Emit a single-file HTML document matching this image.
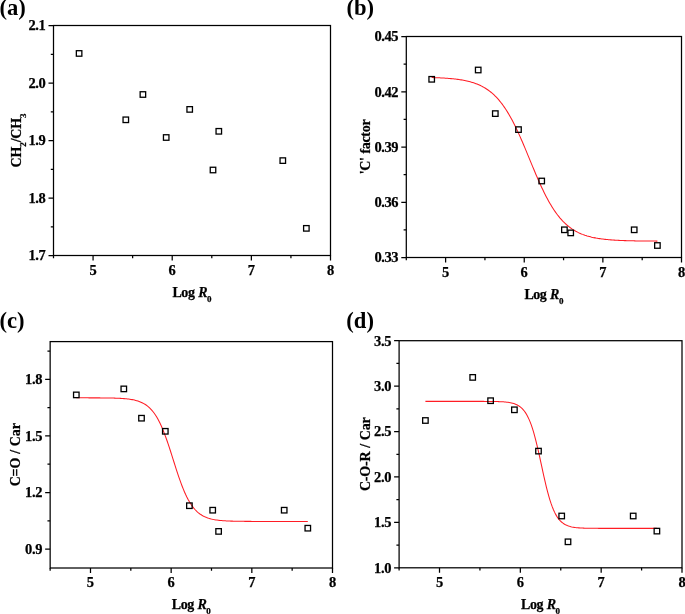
<!DOCTYPE html>
<html><head><meta charset="utf-8"><style>
html,body{margin:0;padding:0;background:#fff;}
body{width:685px;height:614px;overflow:hidden;}
svg{display:block;will-change:transform;}
.t{font-family:"Liberation Serif", serif;font-weight:bold;font-size:14.5px;fill:#000;stroke:#000;stroke-width:0.25px;}
.n{letter-spacing:-0.4px;}
.a{font-size:14px;letter-spacing:-0.45px;word-spacing:0.6px;}
.sub{font-size:9px;baseline-shift:-4.8px;letter-spacing:0;}
.h{font-family:"Liberation Serif", serif;font-weight:bold;font-size:22.6px;fill:#000;}
</style></head><body>
<svg width="685" height="614" viewBox="0 0 685 614">
<rect x="53.5" y="25.5" width="277.00" height="230.00" fill="none" stroke="#000" stroke-width="1.25"/>
<path d="M93.07 255.5V260.5M172.21 255.5V260.5M251.36 255.5V260.5M330.50 255.5V260.5M53.50 255.5V258.2M132.64 255.5V258.2M211.79 255.5V258.2M290.93 255.5V258.2M53.5 255.50H48.5M53.5 198.00H48.5M53.5 140.50H48.5M53.5 83.00H48.5M53.5 25.50H48.5M53.5 226.75H50.8M53.5 169.25H50.8M53.5 111.75H50.8M53.5 54.25H50.8" stroke="#000" stroke-width="1.25" fill="none"/>
<text x="93.07" y="274.5" text-anchor="middle" class="t">5</text>
<text x="172.21" y="274.5" text-anchor="middle" class="t">6</text>
<text x="251.36" y="274.5" text-anchor="middle" class="t">7</text>
<text x="330.50" y="274.5" text-anchor="middle" class="t">8</text>
<text x="45.40" y="260.40" text-anchor="end" class="t n">1.7</text>
<text x="45.40" y="202.90" text-anchor="end" class="t n">1.8</text>
<text x="45.40" y="145.40" text-anchor="end" class="t n">1.9</text>
<text x="45.40" y="87.90" text-anchor="end" class="t n">2.0</text>
<text x="45.40" y="30.40" text-anchor="end" class="t n">2.1</text>
<text x="192.00" y="296.9" text-anchor="middle" class="t a">Log <tspan font-style="italic">R</tspan><tspan class="sub">0</tspan></text>
<text transform="translate(20.8 140.50) rotate(-90)" text-anchor="middle" class="t a" style="letter-spacing:-0.17px">CH<tspan class="sub">2</tspan>/CH<tspan class="sub">3</tspan></text>
<text x="-0.6" y="15.0" class="h">(a)</text>
<rect x="76.35" y="50.70" width="5.5" height="5.5" fill="none" stroke="#000" stroke-width="1.3"/>
<rect x="123.05" y="117.05" width="5.5" height="5.5" fill="none" stroke="#000" stroke-width="1.3"/>
<rect x="140.15" y="91.75" width="5.5" height="5.5" fill="none" stroke="#000" stroke-width="1.3"/>
<rect x="163.45" y="134.75" width="5.5" height="5.5" fill="none" stroke="#000" stroke-width="1.3"/>
<rect x="186.95" y="106.65" width="5.5" height="5.5" fill="none" stroke="#000" stroke-width="1.3"/>
<rect x="210.25" y="167.25" width="5.5" height="5.5" fill="none" stroke="#000" stroke-width="1.3"/>
<rect x="216.05" y="128.55" width="5.5" height="5.5" fill="none" stroke="#000" stroke-width="1.3"/>
<rect x="280.05" y="157.85" width="5.5" height="5.5" fill="none" stroke="#000" stroke-width="1.3"/>
<rect x="303.60" y="225.60" width="5.5" height="5.5" fill="none" stroke="#000" stroke-width="1.3"/>
<rect x="406.3" y="36.5" width="275.20" height="221.00" fill="none" stroke="#000" stroke-width="1.25"/>
<path d="M445.61 257.5V262.5M524.24 257.5V262.5M602.87 257.5V262.5M681.50 257.5V262.5M406.30 257.5V260.2M484.93 257.5V260.2M563.56 257.5V260.2M642.19 257.5V260.2M406.3 257.50H401.3M406.3 202.25H401.3M406.3 147.00H401.3M406.3 91.75H401.3M406.3 36.50H401.3M406.3 229.88H403.6M406.3 174.63H403.6M406.3 119.37H403.6M406.3 64.13H403.6" stroke="#000" stroke-width="1.25" fill="none"/>
<text x="445.61" y="276.5" text-anchor="middle" class="t">5</text>
<text x="524.24" y="276.5" text-anchor="middle" class="t">6</text>
<text x="602.87" y="276.5" text-anchor="middle" class="t">7</text>
<text x="681.50" y="276.5" text-anchor="middle" class="t">8</text>
<text x="398.20" y="262.40" text-anchor="end" class="t n">0.33</text>
<text x="398.20" y="207.15" text-anchor="end" class="t n">0.36</text>
<text x="398.20" y="151.90" text-anchor="end" class="t n">0.39</text>
<text x="398.20" y="96.65" text-anchor="end" class="t n">0.42</text>
<text x="398.20" y="41.40" text-anchor="end" class="t n">0.45</text>
<text x="543.90" y="298.9" text-anchor="middle" class="t a">Log <tspan font-style="italic">R</tspan><tspan class="sub">0</tspan></text>
<text transform="translate(370.2 147.00) rotate(-90)" text-anchor="middle" class="t a" style="letter-spacing:-0.32px">'C' factor</text>
<text x="346.4" y="15.2" class="h">(b)</text>
<path d="M431.70 77.55 L432.83 77.59 L433.97 77.63 L435.10 77.67 L436.24 77.71 L437.37 77.75 L438.51 77.80 L439.64 77.85 L440.77 77.91 L441.91 77.97 L443.04 78.03 L444.18 78.10 L445.31 78.17 L446.44 78.24 L447.58 78.33 L448.71 78.41 L449.85 78.51 L450.98 78.61 L452.12 78.71 L453.25 78.83 L454.38 78.95 L455.52 79.08 L456.65 79.22 L457.79 79.37 L458.92 79.52 L460.05 79.69 L461.19 79.87 L462.32 80.07 L463.46 80.27 L464.59 80.49 L465.73 80.72 L466.86 80.97 L467.99 81.24 L469.13 81.52 L470.26 81.82 L471.40 82.14 L472.53 82.48 L473.66 82.84 L474.80 83.23 L475.93 83.64 L477.07 84.08 L478.20 84.55 L479.34 85.04 L480.47 85.57 L481.60 86.13 L482.74 86.72 L483.87 87.35 L485.01 88.01 L486.14 88.72 L487.27 89.47 L488.41 90.26 L489.54 91.10 L490.68 91.99 L491.81 92.93 L492.95 93.91 L494.08 94.96 L495.21 96.06 L496.35 97.21 L497.48 98.43 L498.62 99.71 L499.75 101.06 L500.88 102.46 L502.02 103.94 L503.15 105.48 L504.29 107.10 L505.42 108.78 L506.56 110.53 L507.69 112.36 L508.82 114.25 L509.96 116.22 L511.09 118.26 L512.23 120.37 L513.36 122.54 L514.49 124.78 L515.63 127.08 L516.76 129.45 L517.90 131.87 L519.03 134.35 L520.17 136.88 L521.30 139.46 L522.43 142.07 L523.57 144.73 L524.70 147.41 L525.84 150.12 L526.97 152.85 L528.10 155.60 L529.24 158.35 L530.37 161.11 L531.51 163.86 L532.64 166.60 L533.78 169.32 L534.91 172.02 L536.04 174.69 L537.18 177.33 L538.31 179.93 L539.45 182.49 L540.58 185.00 L541.71 187.45 L542.85 189.85 L543.98 192.19 L545.12 194.46 L546.25 196.68 L547.39 198.82 L548.52 200.90 L549.65 202.90 L550.79 204.84 L551.92 206.70 L553.06 208.50 L554.19 210.22 L555.32 211.87 L556.46 213.46 L557.59 214.97 L558.73 216.42 L559.86 217.80 L561.00 219.11 L562.13 220.36 L563.26 221.55 L564.40 222.69 L565.53 223.76 L566.67 224.78 L567.80 225.75 L568.93 226.66 L570.07 227.53 L571.20 228.34 L572.34 229.12 L573.47 229.85 L574.61 230.54 L575.74 231.19 L576.87 231.80 L578.01 232.38 L579.14 232.92 L580.28 233.43 L581.41 233.92 L582.54 234.37 L583.68 234.79 L584.81 235.20 L585.95 235.57 L587.08 235.93 L588.22 236.26 L589.35 236.57 L590.48 236.86 L591.62 237.14 L592.75 237.39 L593.89 237.64 L595.02 237.86 L596.15 238.08 L597.29 238.27 L598.42 238.46 L599.56 238.64 L600.69 238.80 L601.83 238.95 L602.96 239.10 L604.09 239.23 L605.23 239.36 L606.36 239.48 L607.50 239.59 L608.63 239.69 L609.76 239.79 L610.90 239.88 L612.03 239.96 L613.17 240.04 L614.30 240.12 L615.44 240.19 L616.57 240.25 L617.70 240.31 L618.84 240.37 L619.97 240.42 L621.11 240.47 L622.24 240.52 L623.37 240.57 L624.51 240.61 L625.64 240.64 L626.78 240.68 L627.91 240.71 L629.05 240.75 L630.18 240.77 L631.31 240.80 L632.45 240.83 L633.58 240.85 L634.72 240.87 L635.85 240.90 L636.98 240.92 L638.12 240.93 L639.25 240.95 L640.39 240.97 L641.52 240.98 L642.66 241.00 L643.79 241.01 L644.92 241.02 L646.06 241.03 L647.19 241.04 L648.33 241.05 L649.46 241.06 L650.59 241.07 L651.73 241.08 L652.86 241.09 L654.00 241.09 L655.13 241.10 L656.27 241.11 L657.40 241.11" stroke="#ff1c24" stroke-width="1.05" fill="none"/>
<rect x="428.95" y="76.55" width="5.5" height="5.5" fill="none" stroke="#000" stroke-width="1.3"/>
<rect x="475.45" y="67.25" width="5.5" height="5.5" fill="none" stroke="#000" stroke-width="1.3"/>
<rect x="492.55" y="110.85" width="5.5" height="5.5" fill="none" stroke="#000" stroke-width="1.3"/>
<rect x="515.75" y="126.85" width="5.5" height="5.5" fill="none" stroke="#000" stroke-width="1.3"/>
<rect x="538.95" y="178.25" width="5.5" height="5.5" fill="none" stroke="#000" stroke-width="1.3"/>
<rect x="561.65" y="227.05" width="5.5" height="5.5" fill="none" stroke="#000" stroke-width="1.3"/>
<rect x="567.95" y="230.15" width="5.5" height="5.5" fill="none" stroke="#000" stroke-width="1.3"/>
<rect x="631.45" y="227.05" width="5.5" height="5.5" fill="none" stroke="#000" stroke-width="1.3"/>
<rect x="654.65" y="242.75" width="5.5" height="5.5" fill="none" stroke="#000" stroke-width="1.3"/>
<rect x="50.15" y="341.6" width="282.35" height="226.40" fill="none" stroke="#000" stroke-width="1.25"/>
<path d="M90.49 568.0V573.0M171.16 568.0V573.0M251.83 568.0V573.0M332.50 568.0V573.0M50.15 568.0V570.7M130.82 568.0V570.7M211.49 568.0V570.7M292.16 568.0V570.7M50.15 549.13H45.15M50.15 492.53H45.15M50.15 435.93H45.15M50.15 379.33H45.15M50.15 520.83H47.449999999999996M50.15 464.23H47.449999999999996M50.15 407.63H47.449999999999996M50.15 351.03H47.449999999999996" stroke="#000" stroke-width="1.25" fill="none"/>
<text x="90.49" y="587.0" text-anchor="middle" class="t">5</text>
<text x="171.16" y="587.0" text-anchor="middle" class="t">6</text>
<text x="251.83" y="587.0" text-anchor="middle" class="t">7</text>
<text x="332.50" y="587.0" text-anchor="middle" class="t">8</text>
<text x="42.05" y="554.03" text-anchor="end" class="t n">0.9</text>
<text x="42.05" y="497.43" text-anchor="end" class="t n">1.2</text>
<text x="42.05" y="440.83" text-anchor="end" class="t n">1.5</text>
<text x="42.05" y="384.23" text-anchor="end" class="t n">1.8</text>
<text x="191.32" y="609.4" text-anchor="middle" class="t a">Log <tspan font-style="italic">R</tspan><tspan class="sub">0</tspan></text>
<text transform="translate(19.9 454.80) rotate(-90)" text-anchor="middle" class="t a" style="letter-spacing:-0.14px">C=O / Car</text>
<text x="-0.6" y="328.4" class="h">(c)</text>
<path d="M76.30 397.83 L77.46 397.83 L78.63 397.83 L79.79 397.83 L80.95 397.83 L82.12 397.83 L83.28 397.84 L84.44 397.84 L85.61 397.84 L86.77 397.84 L87.93 397.84 L89.10 397.85 L90.26 397.85 L91.42 397.85 L92.59 397.86 L93.75 397.86 L94.91 397.86 L96.08 397.87 L97.24 397.87 L98.40 397.88 L99.57 397.89 L100.73 397.90 L101.89 397.91 L103.06 397.92 L104.22 397.93 L105.38 397.94 L106.55 397.96 L107.71 397.97 L108.87 397.99 L110.04 398.01 L111.20 398.04 L112.36 398.06 L113.53 398.09 L114.69 398.13 L115.85 398.17 L117.02 398.21 L118.18 398.26 L119.34 398.31 L120.51 398.38 L121.67 398.45 L122.83 398.52 L124.00 398.61 L125.16 398.71 L126.32 398.82 L127.49 398.95 L128.65 399.09 L129.81 399.25 L130.98 399.43 L132.14 399.63 L133.30 399.85 L134.47 400.11 L135.63 400.39 L136.79 400.71 L137.96 401.06 L139.12 401.46 L140.28 401.91 L141.45 402.41 L142.61 402.96 L143.77 403.59 L144.94 404.28 L146.10 405.05 L147.26 405.90 L148.43 406.85 L149.59 407.91 L150.75 409.07 L151.92 410.35 L153.08 411.76 L154.24 413.31 L155.41 415.00 L156.57 416.84 L157.73 418.84 L158.90 421.00 L160.06 423.34 L161.22 425.84 L162.39 428.51 L163.55 431.35 L164.71 434.34 L165.88 437.49 L167.04 440.77 L168.20 444.17 L169.37 447.68 L170.53 451.27 L171.69 454.91 L172.86 458.59 L174.02 462.28 L175.18 465.95 L176.35 469.57 L177.51 473.13 L178.67 476.59 L179.84 479.95 L181.00 483.17 L182.16 486.25 L183.33 489.18 L184.49 491.94 L185.65 494.54 L186.82 496.97 L187.98 499.22 L189.14 501.32 L190.31 503.25 L191.47 505.02 L192.63 506.65 L193.79 508.13 L194.96 509.49 L196.12 510.71 L197.28 511.83 L198.45 512.83 L199.61 513.74 L200.77 514.56 L201.94 515.29 L203.10 515.95 L204.26 516.55 L205.43 517.08 L206.59 517.55 L207.75 517.98 L208.92 518.36 L210.08 518.69 L211.24 519.00 L212.41 519.27 L213.57 519.51 L214.73 519.72 L215.90 519.91 L217.06 520.08 L218.22 520.23 L219.39 520.37 L220.55 520.48 L221.71 520.59 L222.88 520.68 L224.04 520.77 L225.20 520.84 L226.37 520.91 L227.53 520.97 L228.69 521.02 L229.86 521.07 L231.02 521.11 L232.18 521.14 L233.35 521.18 L234.51 521.21 L235.67 521.23 L236.84 521.25 L238.00 521.27 L239.16 521.29 L240.33 521.31 L241.49 521.32 L242.65 521.33 L243.82 521.35 L244.98 521.36 L246.14 521.36 L247.31 521.37 L248.47 521.38 L249.63 521.39 L250.80 521.39 L251.96 521.40 L253.12 521.40 L254.29 521.40 L255.45 521.41 L256.61 521.41 L257.78 521.41 L258.94 521.42 L260.10 521.42 L261.27 521.42 L262.43 521.42 L263.59 521.42 L264.76 521.42 L265.92 521.42 L267.08 521.43 L268.25 521.43 L269.41 521.43 L270.57 521.43 L271.74 521.43 L272.90 521.43 L274.06 521.43 L275.23 521.43 L276.39 521.43 L277.55 521.43 L278.72 521.43 L279.88 521.43 L281.04 521.43 L282.21 521.43 L283.37 521.43 L284.53 521.43 L285.70 521.43 L286.86 521.43 L288.02 521.43 L289.19 521.43 L290.35 521.43 L291.51 521.43 L292.68 521.43 L293.84 521.43 L295.00 521.43 L296.17 521.43 L297.33 521.43 L298.49 521.43 L299.66 521.43 L300.82 521.43 L301.98 521.43 L303.15 521.43 L304.31 521.43 L305.47 521.43 L306.64 521.43 L307.80 521.43" stroke="#ff1c24" stroke-width="1.05" fill="none"/>
<rect x="73.55" y="392.15" width="5.5" height="5.5" fill="none" stroke="#000" stroke-width="1.3"/>
<rect x="121.05" y="386.15" width="5.5" height="5.5" fill="none" stroke="#000" stroke-width="1.3"/>
<rect x="138.75" y="415.45" width="5.5" height="5.5" fill="none" stroke="#000" stroke-width="1.3"/>
<rect x="162.55" y="428.55" width="5.5" height="5.5" fill="none" stroke="#000" stroke-width="1.3"/>
<rect x="186.65" y="502.95" width="5.5" height="5.5" fill="none" stroke="#000" stroke-width="1.3"/>
<rect x="209.95" y="507.45" width="5.5" height="5.5" fill="none" stroke="#000" stroke-width="1.3"/>
<rect x="215.85" y="528.65" width="5.5" height="5.5" fill="none" stroke="#000" stroke-width="1.3"/>
<rect x="281.45" y="507.45" width="5.5" height="5.5" fill="none" stroke="#000" stroke-width="1.3"/>
<rect x="305.05" y="525.45" width="5.5" height="5.5" fill="none" stroke="#000" stroke-width="1.3"/>
<rect x="399.1" y="340.7" width="282.90" height="227.10" fill="none" stroke="#000" stroke-width="1.25"/>
<path d="M439.51 567.8V572.8M520.34 567.8V572.8M601.17 567.8V572.8M682.00 567.8V572.8M399.10 567.8V570.5M479.93 567.8V570.5M560.76 567.8V570.5M641.59 567.8V570.5M399.1 567.80H394.1M399.1 522.38H394.1M399.1 476.96H394.1M399.1 431.54H394.1M399.1 386.12H394.1M399.1 340.70H394.1M399.1 545.09H396.40000000000003M399.1 499.67H396.40000000000003M399.1 454.25H396.40000000000003M399.1 408.83H396.40000000000003M399.1 363.41H396.40000000000003" stroke="#000" stroke-width="1.25" fill="none"/>
<text x="439.51" y="586.8" text-anchor="middle" class="t">5</text>
<text x="520.34" y="586.8" text-anchor="middle" class="t">6</text>
<text x="601.17" y="586.8" text-anchor="middle" class="t">7</text>
<text x="682.00" y="586.8" text-anchor="middle" class="t">8</text>
<text x="391.00" y="572.70" text-anchor="end" class="t n">1.0</text>
<text x="391.00" y="527.28" text-anchor="end" class="t n">1.5</text>
<text x="391.00" y="481.86" text-anchor="end" class="t n">2.0</text>
<text x="391.00" y="436.44" text-anchor="end" class="t n">2.5</text>
<text x="391.00" y="391.02" text-anchor="end" class="t n">3.0</text>
<text x="391.00" y="345.60" text-anchor="end" class="t n">3.5</text>
<text x="540.55" y="609.1999999999999" text-anchor="middle" class="t a">Log <tspan font-style="italic">R</tspan><tspan class="sub">0</tspan></text>
<text transform="translate(369.5 454.25) rotate(-90)" text-anchor="middle" class="t a" style="letter-spacing:-0.2px">C-O-R / Car</text>
<text x="346.3" y="328.3" class="h">(d)</text>
<path d="M425.40 401.36 L426.56 401.36 L427.73 401.36 L428.89 401.36 L430.05 401.36 L431.22 401.36 L432.38 401.36 L433.54 401.36 L434.71 401.36 L435.87 401.36 L437.03 401.36 L438.20 401.36 L439.36 401.36 L440.52 401.36 L441.69 401.36 L442.85 401.36 L444.01 401.36 L445.18 401.36 L446.34 401.36 L447.50 401.36 L448.67 401.36 L449.83 401.36 L450.99 401.36 L452.16 401.36 L453.32 401.36 L454.48 401.36 L455.65 401.36 L456.81 401.36 L457.97 401.36 L459.14 401.36 L460.30 401.36 L461.46 401.36 L462.63 401.36 L463.79 401.36 L464.95 401.37 L466.12 401.37 L467.28 401.37 L468.44 401.37 L469.61 401.37 L470.77 401.37 L471.93 401.37 L473.10 401.37 L474.26 401.37 L475.42 401.37 L476.59 401.37 L477.75 401.38 L478.91 401.38 L480.08 401.38 L481.24 401.38 L482.40 401.39 L483.57 401.39 L484.73 401.40 L485.89 401.40 L487.06 401.41 L488.22 401.42 L489.38 401.43 L490.55 401.44 L491.71 401.45 L492.87 401.47 L494.04 401.49 L495.20 401.51 L496.36 401.54 L497.53 401.57 L498.69 401.61 L499.85 401.66 L501.02 401.71 L502.18 401.78 L503.34 401.85 L504.51 401.94 L505.67 402.05 L506.83 402.18 L508.00 402.32 L509.16 402.50 L510.32 402.71 L511.49 402.96 L512.65 403.25 L513.81 403.59 L514.98 403.99 L516.14 404.47 L517.30 405.03 L518.47 405.68 L519.63 406.45 L520.79 407.34 L521.96 408.39 L523.12 409.61 L524.28 411.02 L525.45 412.65 L526.61 414.52 L527.77 416.66 L528.94 419.10 L530.10 421.85 L531.26 424.94 L532.43 428.38 L533.59 432.17 L534.75 436.30 L535.92 440.77 L537.08 445.53 L538.24 450.54 L539.41 455.74 L540.57 461.08 L541.73 466.47 L542.89 471.84 L544.06 477.10 L545.22 482.20 L546.38 487.07 L547.55 491.66 L548.71 495.93 L549.87 499.86 L551.04 503.44 L552.20 506.67 L553.36 509.56 L554.53 512.13 L555.69 514.39 L556.85 516.37 L558.02 518.09 L559.18 519.59 L560.34 520.88 L561.51 522.00 L562.67 522.95 L563.83 523.77 L565.00 524.47 L566.16 525.06 L567.32 525.57 L568.49 526.00 L569.65 526.37 L570.81 526.68 L571.98 526.94 L573.14 527.17 L574.30 527.36 L575.47 527.52 L576.63 527.65 L577.79 527.76 L578.96 527.86 L580.12 527.94 L581.28 528.01 L582.45 528.07 L583.61 528.12 L584.77 528.16 L585.94 528.20 L587.10 528.23 L588.26 528.25 L589.43 528.27 L590.59 528.29 L591.75 528.30 L592.92 528.32 L594.08 528.33 L595.24 528.34 L596.41 528.34 L597.57 528.35 L598.73 528.36 L599.90 528.36 L601.06 528.36 L602.22 528.37 L603.39 528.37 L604.55 528.37 L605.71 528.37 L606.88 528.38 L608.04 528.38 L609.20 528.38 L610.37 528.38 L611.53 528.38 L612.69 528.38 L613.86 528.38 L615.02 528.38 L616.18 528.38 L617.35 528.38 L618.51 528.38 L619.67 528.38 L620.84 528.38 L622.00 528.38 L623.16 528.38 L624.33 528.38 L625.49 528.38 L626.65 528.38 L627.82 528.38 L628.98 528.38 L630.14 528.39 L631.31 528.39 L632.47 528.39 L633.63 528.39 L634.80 528.39 L635.96 528.39 L637.12 528.39 L638.29 528.39 L639.45 528.39 L640.61 528.39 L641.78 528.39 L642.94 528.39 L644.10 528.39 L645.27 528.39 L646.43 528.39 L647.59 528.39 L648.76 528.39 L649.92 528.39 L651.08 528.39 L652.25 528.39 L653.41 528.39 L654.57 528.39 L655.74 528.39 L656.90 528.39" stroke="#ff1c24" stroke-width="1.05" fill="none"/>
<rect x="422.65" y="417.75" width="5.5" height="5.5" fill="none" stroke="#000" stroke-width="1.3"/>
<rect x="469.95" y="374.65" width="5.5" height="5.5" fill="none" stroke="#000" stroke-width="1.3"/>
<rect x="487.85" y="397.95" width="5.5" height="5.5" fill="none" stroke="#000" stroke-width="1.3"/>
<rect x="511.65" y="407.05" width="5.5" height="5.5" fill="none" stroke="#000" stroke-width="1.3"/>
<rect x="535.75" y="448.35" width="5.5" height="5.5" fill="none" stroke="#000" stroke-width="1.3"/>
<rect x="558.95" y="513.25" width="5.5" height="5.5" fill="none" stroke="#000" stroke-width="1.3"/>
<rect x="565.25" y="539.05" width="5.5" height="5.5" fill="none" stroke="#000" stroke-width="1.3"/>
<rect x="630.45" y="513.25" width="5.5" height="5.5" fill="none" stroke="#000" stroke-width="1.3"/>
<rect x="654.15" y="528.35" width="5.5" height="5.5" fill="none" stroke="#000" stroke-width="1.3"/>
</svg>
</body></html>
